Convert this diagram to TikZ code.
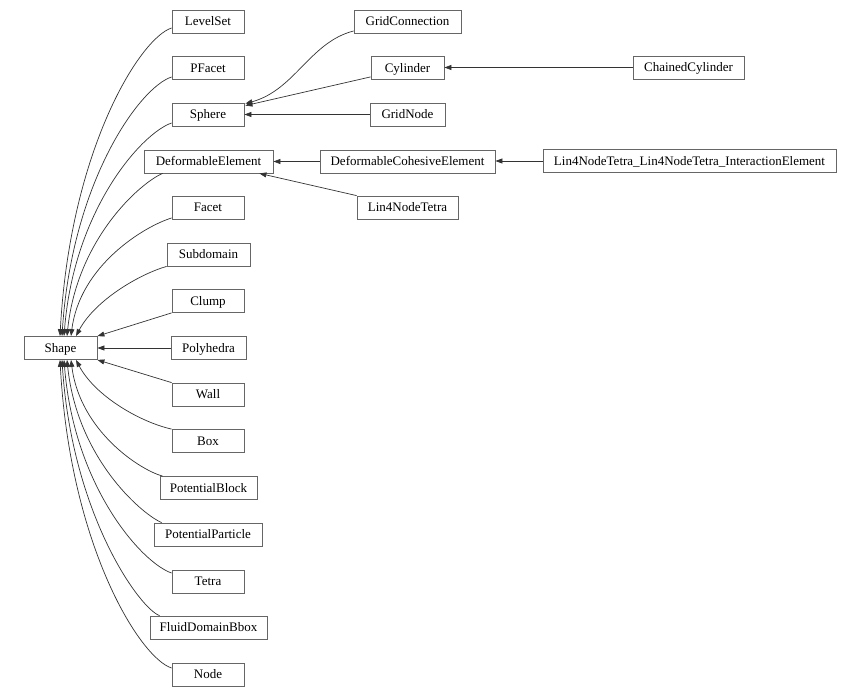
\documentclass[tikz,border=0pt]{standalone}
\usepackage{fontspec}
\setmainfont{Liberation Serif}
\usetikzlibrary{arrows.meta,calc}
\definecolor{boxline}{HTML}{666666}
\definecolor{edgeline}{HTML}{333333}
\tikzset{
  cls/.style={draw=boxline, line width=0.8pt, fill=white, inner sep=0pt,
    minimum height=23pt, text height=11.4pt, text depth=3pt,
    font=\fontsize{13}{15}\selectfont, anchor=center},
  edge/.style={draw=edgeline, line width=0.7pt,
    -{Triangle[length=7pt,width=5pt]}},
}
\begin{document}
\begin{tikzpicture}[x=1pt,y=-1pt]
\useasboundingbox (0,0) rectangle (860,696);
% column 1
\node[cls, minimum width=73pt] (shape) at (60.5,348) {Shape};
% column 2
\node[cls, minimum width=72pt] (levelset) at (208,21.5) {LevelSet};
\node[cls, minimum width=72pt] (pfacet) at (208,68) {PFacet};
\node[cls, minimum width=72pt] (sphere) at (208,114.5) {Sphere};
\node[cls, minimum width=129pt] (defelem) at (208.5,161.5) {DeformableElement};
\node[cls, minimum width=72pt] (facet) at (208,207.5) {Facet};
\node[cls, minimum width=83pt] (subdomain) at (208.5,254.5) {Subdomain};
\node[cls, minimum width=72pt] (clump) at (208,301) {Clump};
\node[cls, minimum width=75pt] (polyhedra) at (208.5,348) {Polyhedra};
\node[cls, minimum width=72pt] (wall) at (208,394.5) {Wall};
\node[cls, minimum width=72pt] (box) at (208,441) {Box};
\node[cls, minimum width=97pt] (potblock) at (208.5,488) {PotentialBlock};
\node[cls, minimum width=108pt] (potpart) at (208,534.5) {PotentialParticle};
\node[cls, minimum width=72pt] (tetra) at (208,581.5) {Tetra};
\node[cls, minimum width=117pt] (fluid) at (208.5,627.5) {FluidDomainBbox};
\node[cls, minimum width=72pt] (nodecls) at (208,674.5) {Node};
% column 3
\node[cls, minimum width=107pt] (gridconn) at (407.5,21.5) {GridConnection};
\node[cls, minimum width=73pt] (cylinder) at (407.5,68) {Cylinder};
\node[cls, minimum width=75pt] (gridnode) at (407.5,114.5) {GridNode};
\node[cls, minimum width=175pt] (defcoh) at (407.5,161.5) {DeformableCohesiveElement};
\node[cls, minimum width=101pt] (lin4) at (407.5,207.5) {Lin4NodeTetra};
% column 4
\node[cls, minimum width=111pt] (chained) at (688.5,67.5) {ChainedCylinder};
\node[cls, minimum width=293pt] (lin4inter) at (689.5,161) {Lin4NodeTetra\_Lin4NodeTetra\_InteractionElement};

% edges into Shape (upper group)
\draw[edge] ($(levelset.west)+(0,6.5)$) .. controls (140,38) and (70,150) .. ($(shape.north)+(-0.5,0)$);
\draw[edge] ($(pfacet.west)+(0,9)$) .. controls (140,87) and (72,181) .. ($(shape.north)+(1.5,0)$);
\draw[edge] ($(sphere.west)+(0,8.5)$) .. controls (142,133) and (74,209) .. ($(shape.north)+(3.5,0)$);
\draw[edge] ($(defelem.south west)+(19,0)$) .. controls (140,183) and (77,239) .. ($(shape.north)+(6.5,0)$);
\draw[edge] ($(facet.west)+(0,10.5)$) .. controls (145,226) and (80,265) .. ($(shape.north)+(10.5,0)$);
\draw[edge] (subdomain.south west) .. controls (140,274) and (95,300) .. ($(shape.north)+(15.5,0)$);
\draw[edge] (clump.south west) -- (shape.north east);
\draw[edge] (polyhedra.west) -- (shape.east);
\draw[edge] (wall.north west) -- (shape.south east);
% lower group
\draw[edge] (box.north west) .. controls (140,422) and (95,396) .. ($(shape.south)+(15.5,0)$);
\draw[edge] ($(potblock.north west)+(3,0)$) .. controls (140,470) and (80,431) .. ($(shape.south)+(10.5,0)$);
\draw[edge] ($(potpart.north west)+(8,0)$) .. controls (140,513) and (77,457) .. ($(shape.south)+(6.5,0)$);
\draw[edge] ($(tetra.west)+(0,-8.5)$) .. controls (142,563) and (74,487) .. ($(shape.south)+(3.5,0)$);
\draw[edge] ($(fluid.north west)+(10,0)$) .. controls (140,609) and (72,515) .. ($(shape.south)+(1.5,0)$);
\draw[edge] ($(nodecls.west)+(0,-6.5)$) .. controls (140,658) and (70,546) .. ($(shape.south)+(-0.5,0)$);

% upper right edges
\draw[edge] ($(gridconn.west)+(0,9.5)$) .. controls (310,42) and (295,90) .. ($(sphere.north east)+(1,1)$);
\draw[edge] ($(cylinder.south west)+(0,-3)$) -- ($(sphere.north east)+(1,3)$);
\draw[edge] (gridnode.west) -- (sphere.east);
\draw[edge] (chained.west) -- (cylinder.east |- chained.west);
\draw[edge] (defcoh.west) -- (defelem.east |- defcoh.west);
\draw[edge] (lin4inter.west) -- (defcoh.east |- lin4inter.west);
\draw[edge] (lin4.north west) -- ($(defelem.south east)+(-14,0)$);
\end{tikzpicture}
\end{document}
